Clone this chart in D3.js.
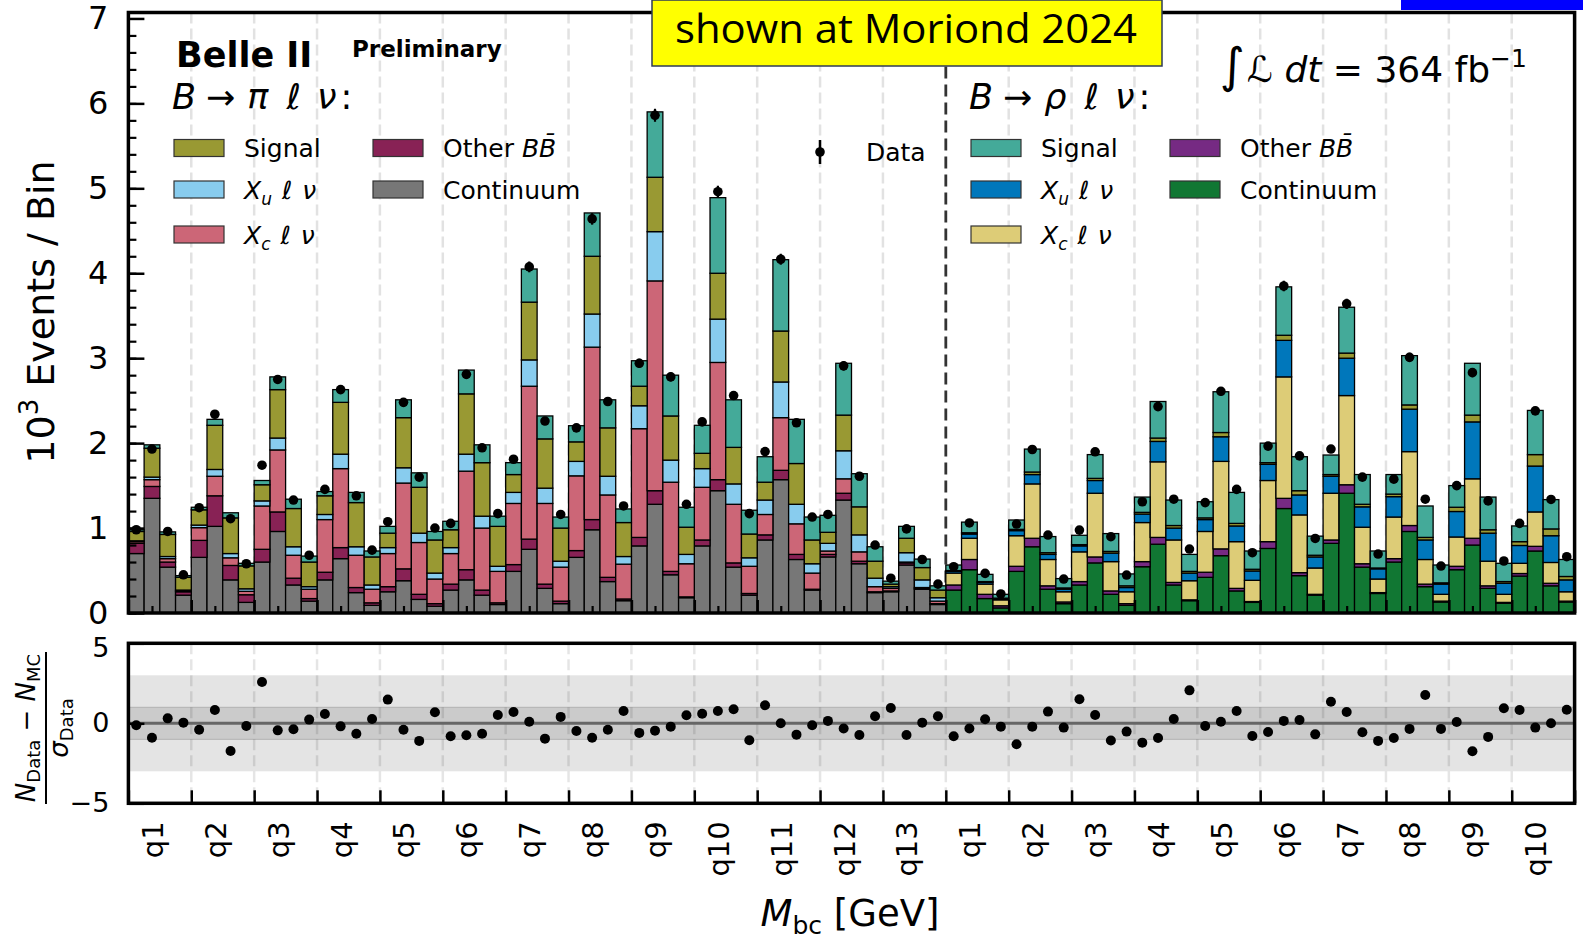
<!DOCTYPE html>
<html>
<head>
<meta charset="utf-8">
<script src="https://cdn.jsdelivr.net/npm/d3@7"></script>
<style>
  body { margin: 0; background: #fff; }
  svg { display: block; }
  text { font-family: "DejaVu Sans", sans-serif; fill: #000; }
</style>
</head>
<body>
<svg id="chart" width="1583" height="941"></svg>
<script>
// ---- B -> pi l nu channel: 13 q2 bins x 4 Mbc bins (values in 10^3 events) ----
const piContinuum = [0.70,1.35,0.54,0.21, 0.655,1.02,0.39,0.125, 0.60,0.96,0.33,0.14, 0.39,0.64,0.24,0.09,
  0.25,0.38,0.16,0.08, 0.27,0.39,0.21,0.10, 0.49,0.75,0.29,0.11, 0.655,0.98,0.37,0.145, 0.79,1.28,0.45,0.18,
  0.79,1.44,0.54,0.21, 0.86,1.57,0.63,0.27, 0.66,1.33,0.58,0.24, 0.25,0.565,0.28,0.10];
const piOtherBB = [0.12,0.14,0.06,0.04, 0.20,0.36,0.17,0.09, 0.15,0.23,0.08,0.03, 0.09,0.13,0.06,0.03,
  0.06,0.14,0.06,0.03, 0.07,0.12,0.06,0.02, 0.08,0.12,0.05,0.03, 0.08,0.12,0.05,0.02, 0.10,0.16,0.04,0.01,
  0.07,0.13,0.05,0.02, 0.06,0.11,0.06,0.01, 0.03,0.08,0.03,0.01, 0.01,0.025,0.01,0.01];
const piXc = [0.02,0.08,0.04,0.01, 0.15,0.23,0.09,0.04, 0.51,0.73,0.27,0.11, 0.62,0.93,0.38,0.16,
  0.39,1.01,0.61,0.29, 0.36,1.16,0.73,0.37, 0.72,1.80,0.95,0.40, 0.88,2.03,0.97,0.41, 1.28,2.47,1.05,0.39,
  0.62,1.38,0.69,0.32, 0.24,0.62,0.36,0.19, 0.04,0.17,0.11,0.06, 0.03,0.01,0.01,0.03];
const piXu = [0.01,0.03,0.025,0.01, 0.03,0.08,0.05,0.03, 0.06,0.14,0.10,0.03, 0.06,0.17,0.10,0.05,
  0.07,0.18,0.11,0.07, 0.07,0.20,0.14,0.06, 0.13,0.31,0.18,0.07, 0.17,0.39,0.22,0.09, 0.27,0.58,0.26,0.11,
  0.22,0.51,0.24,0.10, 0.17,0.42,0.23,0.11, 0.09,0.33,0.20,0.10, 0.02,0.11,0.09,0.04];
const piSignalPi = [0.11,0.34,0.26,0.15, 0.18,0.52,0.42,0.27, 0.19,0.57,0.45,0.29, 0.22,0.61,0.52,0.33,
  0.17,0.59,0.54,0.39, 0.21,0.71,0.63,0.47, 0.21,0.68,0.58,0.39, 0.23,0.68,0.57,0.40, 0.23,0.64,0.52,0.32,
  0.18,0.54,0.43,0.28, 0.21,0.60,0.48,0.28, 0.13,0.42,0.33,0.20, 0.03,0.17,0.145,0.09];
const piSignalRho = [0.02,0.04,0.03,0.02, 0.03,0.07,0.06,0.03, 0.05,0.15,0.11,0.07, 0.05,0.15,0.12,0.07,
  0.08,0.21,0.17,0.10, 0.10,0.28,0.21,0.12, 0.14,0.39,0.27,0.13, 0.19,0.51,0.33,0.16, 0.30,0.77,0.48,0.235,
  0.33,0.89,0.56,0.28, 0.30,0.84,0.52,0.27, 0.20,0.61,0.39,0.17, 0.035,0.14,0.10,0.05];
const piData = [0.98,1.93,0.96,0.45, 1.24,2.34,1.11,0.58, 1.74,2.75,1.33,0.68, 1.455,2.63,1.38,0.74,
  1.075,2.48,1.60,1.00, 1.055,2.81,1.945,1.17, 1.81,4.075,2.26,1.16, 2.18,4.64,2.49,1.26, 2.94,5.86,2.78,1.28,
  2.25,4.96,2.56,1.17, 1.90,4.165,2.24,1.13, 1.16,2.91,1.61,0.80, 0.41,0.99,0.63,0.34];
const piPull = [-0.125,-0.9,0.31,0.04, -0.4,0.83,-1.73,-0.17, 2.58,-0.44,-0.375,0.23, 0.58,-0.19,-0.65,0.27,
  1.48,-0.4,-1.1,0.69, -0.81,-0.75,-0.65,0.52, 0.71,0.1,-0.96,0.4, -0.48,-0.9,-0.4,0.77, -0.6,-0.46,-0.21,0.5,
  0.6,0.77,0.875,-1.06, 1.125,0.0,-0.71,-0.125, 0.15,-0.33,-0.73,0.44, 0.96,-0.73,0.04,0.44];

// ---- B -> rho l nu channel: 10 q2 bins x 4 Mbc bins ----
const rhoContinuum = [0.27,0.51,0.17,0.06, 0.49,0.78,0.28,0.11, 0.33,0.59,0.22,0.09, 0.545,0.81,0.33,0.145,
  0.42,0.675,0.26,0.125, 0.76,1.23,0.44,0.21, 0.82,1.41,0.54,0.23, 0.60,0.96,0.31,0.13, 0.51,0.80,0.29,0.115,
  0.435,0.73,0.32,0.13];
const rhoOtherBB = [0.06,0.12,0.05,0.025, 0.06,0.10,0.04,0.02, 0.04,0.07,0.04,0.02, 0.06,0.08,0.03,0.01,
  0.06,0.08,0.03,0.01, 0.08,0.12,0.035,0.01, 0.04,0.10,0.04,0.01, 0.04,0.07,0.03,0.01, 0.04,0.08,0.03,0.01,
  0.03,0.055,0.03,0.01];
const rhoXc = [0.14,0.25,0.12,0.07, 0.36,0.64,0.31,0.12, 0.35,0.75,0.345,0.14, 0.46,0.89,0.50,0.225,
  0.48,1.03,0.55,0.25, 0.72,1.43,0.68,0.31, 0.55,1.05,0.43,0.16, 0.49,0.87,0.29,0.08, 0.345,0.70,0.29,0.095,
  0.12,0.405,0.245,0.11];
const rhoXu = [0.02,0.05,0.02,0.01, 0.06,0.11,0.06,0.03, 0.07,0.15,0.10,0.05, 0.10,0.24,0.14,0.09,
  0.14,0.29,0.185,0.11, 0.19,0.43,0.235,0.13, 0.20,0.44,0.24,0.12, 0.24,0.50,0.23,0.12, 0.30,0.67,0.33,0.13,
  0.21,0.54,0.315,0.14];
const rhoSignalPi = [0.01,0.015,0.01,0.01, 0.015,0.03,0.02,0.015, 0.015,0.025,0.02,0.02, 0.02,0.04,0.03,0.02,
  0.02,0.05,0.03,0.02, 0.02,0.06,0.05,0.02, 0.02,0.06,0.03,0.01, 0.03,0.05,0.03,0.015, 0.05,0.08,0.04,0.02,
  0.045,0.135,0.08,0.04];
const rhoSignalRho = [0.065,0.125,0.085,0.045, 0.11,0.27,0.19,0.11, 0.11,0.28,0.21,0.14, 0.18,0.43,0.30,0.20,
  0.19,0.48,0.365,0.215, 0.23,0.57,0.40,0.225, 0.23,0.54,0.35,0.20, 0.23,0.58,0.37,0.21, 0.255,0.61,0.385,0.215,
  0.185,0.52,0.345,0.20];
const rhoData = [0.545,1.06,0.467,0.224, 1.047,1.925,0.918,0.40, 0.976,1.898,0.898,0.447, 1.31,2.43,1.34,0.753,
  1.30,2.61,1.455,0.71, 1.965,3.85,1.85,0.878, 1.93,3.64,1.60,0.694, 1.576,3.01,1.34,0.553, 1.50,2.83,1.32,0.612,
  1.055,2.38,1.337,0.663];
const rhoPull = [-0.81,-0.33,0.25,-0.21, -1.31,-0.21,0.73,-0.27, 1.5,0.52,-1.08,-0.52, -1.21,-0.92,0.27,2.06,
  -0.17,0.1,0.77,-0.79, -0.54,0.15,0.21,-0.69, 1.35,0.71,-0.56,-1.1, -0.92,-0.35,1.77,-0.35, 0.08,-1.75,-0.85,0.94,
  0.83,-0.27,0.0,0.85];

// q2 bin tick labels
const piQLabels = ["q1","q2","q3","q4","q5","q6","q7","q8","q9","q10","q11","q12","q13"];
const rhoQLabels = ["q1","q2","q3","q4","q5","q6","q7","q8","q9","q10"];

// Component colours per channel (stack order: bottom -> top)
const keys = ["cont", "bb", "xc", "xu", "sigPi", "sigRho"];
const colors = {
  pi:  { cont: "#777777", bb: "#882255", xc: "#CC6677", xu: "#88CCEE", sigPi: "#999933", sigRho: "#44AA99" },
  rho: { cont: "#117733", bb: "#762A83", xc: "#DDCC77", xu: "#0077BB", sigPi: "#999933", sigRho: "#44AA99" }
};

// Build one row per Mbc bin
const rows = [];
piContinuum.forEach((v, i) => rows.push({ ch: "pi", cont: v, bb: piOtherBB[i], xc: piXc[i], xu: piXu[i],
  sigPi: piSignalPi[i], sigRho: piSignalRho[i], data: piData[i], pull: piPull[i] }));
rhoContinuum.forEach((v, i) => rows.push({ ch: "rho", cont: v, bb: rhoOtherBB[i], xc: rhoXc[i], xu: rhoXu[i],
  sigPi: rhoSignalPi[i], sigRho: rhoSignalRho[i], data: rhoData[i], pull: rhoPull[i] }));
rows.forEach((r, i) => r.bin = i);
const nBins = rows.length;
const nPiBins = piContinuum.length;
const binsPerQ = 4;

const svg = d3.select("#chart");
const X0 = 128.4, X1 = 1574.6;
const mainTop = 12.5, mainBottom = 613;
const ratioTop = 643.3, ratioBottom = 803.3;

const x = d3.scaleLinear().domain([0, nBins]).range([X0, X1]);
const y = d3.scaleLinear().domain([0, 7.07]).range([mainBottom, mainTop]);
const yr = d3.scaleLinear().domain([-5, 5]).range([ratioBottom, ratioTop]);

const boundaries = d3.range(0, nBins + 1, binsPerQ);
const labelPos = d3.range(0, nBins, binsPerQ).map(b => b + 1.5);
const qLabels = piQLabels.concat(rhoQLabels);

// ---------------- main panel ----------------
const grid = svg.append("g");
grid.selectAll("line").data(boundaries.filter(b => b > 0 && b < nBins && b !== nPiBins)).join("line")
  .attr("x1", d => x(d)).attr("x2", d => x(d)).attr("y1", mainTop).attr("y2", mainBottom)
  .attr("stroke", "#e2e2e2").attr("stroke-width", 2.5).attr("stroke-dasharray", "11,5");
svg.append("line").attr("x1", x(nPiBins)).attr("x2", x(nPiBins)).attr("y1", mainTop).attr("y2", mainBottom)
  .attr("stroke", "#333").attr("stroke-width", 2.8).attr("stroke-dasharray", "12,6");

const stacked = d3.stack().keys(keys)(rows);
const bars = svg.append("g");
stacked.forEach(layer => {
  bars.append("g").selectAll("rect").data(layer).join("rect")
    .attr("x", d => x(d.data.bin))
    .attr("width", d => x(d.data.bin + 1) - x(d.data.bin))
    .attr("y", d => y(d[1]))
    .attr("height", d => Math.max(0, y(d[0]) - y(d[1])))
    .attr("fill", d => colors[d.data.ch][layer.key])
    .attr("stroke", "#000").attr("stroke-width", 1.3);
});

// data points with Poisson errors
const pts = svg.append("g");
pts.selectAll("line").data(rows).join("line")
  .attr("x1", d => x(d.bin + 0.5)).attr("x2", d => x(d.bin + 0.5))
  .attr("y1", d => y(d.data - Math.sqrt(d.data / 1000))).attr("y2", d => y(d.data + Math.sqrt(d.data / 1000)))
  .attr("stroke", "#000").attr("stroke-width", 2.2);
pts.selectAll("circle").data(rows).join("circle")
  .attr("cx", d => x(d.bin + 0.5)).attr("cy", d => y(d.data)).attr("r", 4.8).attr("fill", "#000");

function styleAxis(g, width) {
  g.select(".domain").remove();
  g.selectAll(".tick line").attr("stroke", "#000").attr("stroke-width", width);
  g.selectAll(".tick text").attr("font-family", "DejaVu Sans").attr("fill", "#000");
}

// y axis: minor + major ticks pointing inward
svg.append("g").attr("transform", `translate(${X0},0)`)
  .call(d3.axisLeft(y).tickValues(d3.range(0, 35).map(k => k * 0.2)).tickSize(-8).tickFormat(""))
  .call(g => styleAxis(g, 2.2));
svg.append("g").attr("transform", `translate(${X0},0)`)
  .call(d3.axisLeft(y).tickValues(d3.range(0, 8)).tickSize(-16).tickPadding(20).tickFormat(d3.format("d")))
  .call(g => { styleAxis(g, 2.5); g.selectAll(".tick text").attr("font-size", 32); });

// x axis ticks on main panel (no labels)
svg.append("g").attr("transform", `translate(0,${mainBottom})`)
  .call(d3.axisBottom(x).tickValues(boundaries).tickSize(-13).tickFormat(""))
  .call(g => styleAxis(g, 2.5));
svg.append("g").attr("transform", `translate(0,${mainBottom})`)
  .call(d3.axisBottom(x).tickValues(labelPos).tickSize(-7).tickFormat(""))
  .call(g => styleAxis(g, 2.2));

svg.append("rect").attr("x", X0).attr("y", mainTop).attr("width", X1 - X0).attr("height", mainBottom - mainTop)
  .attr("fill", "none").attr("stroke", "#000").attr("stroke-width", 3.5);

// ---------------- ratio panel ----------------
svg.append("rect").attr("x", X0).attr("width", X1 - X0).attr("y", yr(3)).attr("height", yr(-3) - yr(3)).attr("fill", "#e4e4e4");
svg.append("rect").attr("x", X0).attr("width", X1 - X0).attr("y", yr(1)).attr("height", yr(-1) - yr(1)).attr("fill", "#cbcbcb");
[1, -1].forEach(v => svg.append("line").attr("x1", X0).attr("x2", X1).attr("y1", yr(v)).attr("y2", yr(v))
  .attr("stroke", "#b2b2b2").attr("stroke-width", 1));
svg.append("g").selectAll("line").data(boundaries.filter(b => b > 0 && b < nBins)).join("line")
  .attr("x1", d => x(d)).attr("x2", d => x(d)).attr("y1", ratioTop).attr("y2", ratioBottom)
  .attr("stroke", "rgba(0,0,0,0.1)").attr("stroke-width", 2.5).attr("stroke-dasharray", "11,5");
svg.append("line").attr("x1", X0).attr("x2", X1).attr("y1", yr(0)).attr("y2", yr(0))
  .attr("stroke", "#666").attr("stroke-width", 3);
svg.append("g").selectAll("circle").data(rows).join("circle")
  .attr("cx", d => x(d.bin + 0.5)).attr("cy", d => yr(d.pull)).attr("r", 5).attr("fill", "#000");

svg.append("g").attr("transform", `translate(${X0},0)`)
  .call(d3.axisLeft(yr).tickValues([-5, 0, 5]).tickSize(-16).tickPadding(19))
  .call(g => {
    styleAxis(g, 2.5);
    g.selectAll(".tick text").attr("font-size", 27).attr("dy", d => d === 5 ? "0.48em" : "0.32em");
  });
svg.append("g").attr("transform", `translate(0,${ratioBottom})`)
  .call(d3.axisBottom(x).tickValues(boundaries).tickSize(-13).tickFormat(""))
  .call(g => styleAxis(g, 2.5));
svg.append("g").attr("transform", `translate(0,${ratioBottom})`)
  .call(d3.axisBottom(x).tickValues(labelPos).tickSize(0).tickFormat((d, i) => qLabels[i]))
  .call(g => {
    styleAxis(g, 0);
    g.selectAll(".tick text").attr("font-size", 29).attr("text-anchor", "end")
      .attr("transform", "rotate(-90)").attr("x", -18).attr("y", 0).attr("dy", "0.36em");
  });
svg.append("rect").attr("x", X0).attr("y", ratioTop).attr("width", X1 - X0).attr("height", ratioBottom - ratioTop)
  .attr("fill", "none").attr("stroke", "#000").attr("stroke-width", 3.5);

// ---------------- text helpers ----------------
function rich(parent, px, py, size, segs, anchor) {
  const t = parent.append("text").attr("x", px).attr("y", py).attr("font-size", size)
    .attr("text-anchor", anchor || "start");
  segs.forEach(s => {
    const ts = t.append("tspan").text(s.t);
    if (s.i) ts.attr("font-style", "italic");
    if (s.b) ts.attr("font-weight", "bold");
    if (s.size) ts.attr("font-size", s.size);
    if (s.dy) ts.attr("dy", s.dy);
    if (s.dx) ts.attr("dx", s.dx);
  });
  return t;
}

// axis titles
rich(svg.append("g").attr("transform", "translate(54,312) rotate(-90)"), 0, 0, 38,
  [{ t: "10" }, { t: "3", size: 26, dy: -16 }, { t: " Events / Bin", dy: 16 }], "middle");
rich(svg, 850, 926, 37, [{ t: "M", i: 1 }, { t: "bc", size: 25, dy: 8 }, { t: " [GeV]", dy: -8 }], "middle");

const frac = svg.append("g").attr("transform", "translate(46,728) rotate(-90)");
frac.append("line").attr("x1", -76).attr("x2", 76).attr("y1", 0).attr("y2", 0).attr("stroke", "#000").attr("stroke-width", 2);
rich(frac, 0, -11, 26, [{ t: "N", i: 1 }, { t: "Data", size: 18, dy: 5 }, { t: " − ", dy: -5 },
  { t: "N", i: 1 }, { t: "MC", size: 18, dy: 5 }], "middle");
rich(frac, 0, 22, 26, [{ t: "σ", i: 1 }, { t: "Data", size: 18, dy: 5 }], "middle");

// experiment label and luminosity
rich(svg, 176, 67, 35, [{ t: "Belle II", b: 1 }]);
rich(svg, 352, 57, 23, [{ t: "Preliminary", b: 1 }]);
rich(svg, 1220, 82, 36, [{ t: "∫", size: 48 }, { t: "ℒ", i: 1, dx: 2 }, { t: " " }, { t: "dt", i: 1 }, { t: " = 364 fb" },
  { t: "−1", size: 25, dy: -15 }]);

// legends
const xLnu = sub => [{ t: "X", i: 1 }, { t: sub, i: 1, size: 17, dy: 6 }, { t: "ℓ", i: 1, dy: -6, dx: 10 }, { t: "ν", i: 1, dx: 10 }];
const piLegend = [
  { col: 0, row: 0, key: "sigPi", segs: [{ t: "Signal" }] },
  { col: 0, row: 1, key: "xu", segs: xLnu("u") },
  { col: 0, row: 2, key: "xc", segs: xLnu("c") },
  { col: 1, row: 0, key: "bb", segs: [{ t: "Other " }, { t: "B", i: 1 }, { t: "B\u0304", i: 1 }] },
  { col: 1, row: 1, key: "cont", segs: [{ t: "Continuum" }] }
];
const rhoLegend = [
  { col: 0, row: 0, key: "sigRho", segs: [{ t: "Signal" }] },
  { col: 0, row: 1, key: "xu", segs: xLnu("u") },
  { col: 0, row: 2, key: "xc", segs: xLnu("c") },
  { col: 1, row: 0, key: "bb", segs: [{ t: "Other " }, { t: "B", i: 1 }, { t: "B\u0304", i: 1 }] },
  { col: 1, row: 1, key: "cont", segs: [{ t: "Continuum" }] }
];
const rowY = [148, 189.5, 234.5];
const header = p => [{ t: "B", i: 1 }, { t: "→", dx: 10 }, { t: p, i: 1, dx: 12 }, { t: "ℓ", i: 1, dx: 18 },
  { t: "ν", i: 1, dx: 16 }, { t: ":", dx: 4 }];

function drawLegend(items, ch, left, colStep, head) {
  const g = svg.append("g");
  rich(g, left - 2, 109, 35, head);
  items.forEach(it => {
    const px = left + it.col * colStep, cy = rowY[it.row];
    g.append("rect").attr("x", px).attr("y", cy - 8.5).attr("width", 50).attr("height", 17)
      .attr("fill", colors[ch][it.key]).attr("stroke", "#333").attr("stroke-width", 1.2);
    rich(g, px + 70, cy + 9, 25, it.segs);
  });
}
drawLegend(piLegend, "pi", 174, 199, header("π"));
drawLegend(rhoLegend, "rho", 971, 199, header("ρ"));

// data legend entry
svg.append("line").attr("x1", 820).attr("x2", 820).attr("y1", 140).attr("y2", 164).attr("stroke", "#000").attr("stroke-width", 2.5);
svg.append("circle").attr("cx", 820).attr("cy", 152).attr("r", 4.8).attr("fill", "#000");
rich(svg, 866, 161, 25, [{ t: "Data" }]);

// conference banner and corner marker
svg.append("rect").attr("x", 652).attr("y", 0).attr("width", 510).attr("height", 66)
  .attr("fill", "#ffff00").attr("stroke", "#2f3b57").attr("stroke-width", 1.5);
svg.append("text").attr("x", 906).attr("y", 43).attr("text-anchor", "middle")
  .attr("font-size", 41).attr("textLength", 462).attr("lengthAdjust", "spacingAndGlyphs")
  .style("font-family", "'Open Sans', 'Noto Sans', sans-serif")
  .text("shown at Moriond 2024");
svg.append("rect").attr("x", 1401).attr("y", 0).attr("width", 182).attr("height", 10).attr("fill", "#0000ff");
</script>
</body>
</html>
